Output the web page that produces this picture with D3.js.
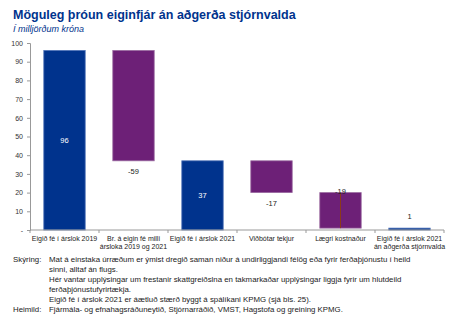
<!DOCTYPE html>
<html>
<head>
<meta charset="utf-8">
<script src="https://cdn.jsdelivr.net/npm/d3@7"></script>
<style>
  html, body { margin: 0; padding: 0; background: #fff; }
  svg { display: block; font-family: "Liberation Sans", Arial, sans-serif; }
</style>
</head>
<body>
<svg id="chart" width="451" height="327"></svg>
<script>
// Waterfall: equity of tourism firms, 2019 -> 2021 without government measures
const categories = [
  ["Eigið fé í árslok 2019"],
  ["Br. á eigin fé milli", "ársloka 2019 og 2021"],
  ["Eigið fé í árslok 2021"],
  ["Viðbótar tekjur"],
  ["Lægri kostnaður"],
  ["Eigið fé í árslok 2021", "án aðgerða stjórnvalda"]
];
const values = [96, -59, 37, -17, -19, 1];
const isTotal = [true, false, true, false, false, true];
const labelPlace = ["middle", "below", "middle", "below", "top", "above"];
const yTicks = [0, 10, 20, 30, 40, 50, 60, 70, 80, 90, 100];

const notes = [
  ["Skýring:", "Mat á einstaka úrræðum er ýmist dregið saman niður á undirliggjandi félög eða fyrir ferðaþjónustu í heild"],
  ["", "sinni, alltaf án flugs."],
  ["", "Hér vantar upplýsingar um frestanir skattgreiðslna en takmarkaðar upplýsingar liggja fyrir um hlutdeild"],
  ["", "ferðaþjónustufyrirtækja."],
  ["", "Eigið fé í árslok 2021 er áætluð stærð byggt á spálíkani KPMG (sjá bls. 25)."],
  ["Heimild:", "Fjármála- og efnahagsráðuneytið, Stjórnarráðið, VMST, Hagstofa og greining KPMG."]
];

const blue = "#00338D", purple = "#6D2077";
const svg = d3.select("#chart");

// Title block
svg.append("text").attr("x", 13).attr("y", 19)
  .attr("fill", blue).attr("font-weight", "bold").attr("font-size", 12.5)
  .text("Möguleg þróun eiginfjár án aðgerða stjórnvalda");
svg.append("text").attr("x", 13).attr("y", 32)
  .attr("fill", blue).attr("font-style", "italic").attr("font-size", 9)
  .text("Í milljörðum króna");

// Running start/end of each step
let run = 0;
const steps = values.map((v, i) => {
  let s, e;
  if (isTotal[i]) { s = 0; e = v; run = v; }
  else { s = run; e = run + v; run = e; }
  return { i, v, lo: Math.min(s, e), hi: Math.max(s, e), total: isTotal[i] };
});

const plot = { left: 30, right: 444, top: 43, bottom: 230 };
const x = d3.scaleBand().domain(d3.range(categories.length))
  .range([plot.left, plot.right]).paddingInner(0.4).paddingOuter(0.2);
const y = d3.scaleLinear().domain([0, 100]).range([plot.bottom, plot.top]);

// Y axis
const yAxis = svg.append("g").attr("transform", `translate(${plot.left},0)`)
  .call(d3.axisLeft(y).tickValues(yTicks).tickSize(3).tickPadding(4)
    .tickFormat(d => d === 0 ? "-" : d));
yAxis.select(".domain").attr("stroke", "#999");
yAxis.selectAll(".tick line").attr("stroke", "#999");
yAxis.selectAll("text").attr("font-size", 7).attr("fill", "#333")
  .attr("font-family", "Liberation Sans, Arial, sans-serif");

// Bars
svg.append("g").selectAll("rect").data(steps).join("rect")
  .attr("x", d => x(d.i))
  .attr("width", x.bandwidth())
  .attr("y", d => y(d.hi))
  .attr("height", d => y(d.lo) - y(d.hi))
  .attr("fill", d => d.total ? blue : purple)
  .attr("stroke", d => d.total ? "#4f73b8" : "#9a6aa0")
  .attr("stroke-width", 0.8);

// Thin line through the cost-reduction bar
steps.filter(d => labelPlace[d.i] === "top").forEach(d => {
  svg.append("line")
    .attr("x1", x(d.i) + x.bandwidth() / 2).attr("x2", x(d.i) + x.bandwidth() / 2)
    .attr("y1", y(d.hi)).attr("y2", y(d.lo))
    .attr("stroke", "#8B3A1A").attr("stroke-width", 1);
});

// Value labels
svg.append("g").selectAll("text").data(steps).join("text")
  .attr("x", d => x(d.i) + x.bandwidth() / 2)
  .attr("y", d => {
    const p = labelPlace[d.i];
    if (p === "middle") return y((d.lo + d.hi) / 2) + 2.5;
    if (p === "below") return y(d.lo) + 13;
    if (p === "top") return y(d.hi) + 1;
    return y(d.hi) - 9;
  })
  .attr("text-anchor", "middle").attr("font-size", 7.5)
  .attr("fill", d => labelPlace[d.i] === "middle" ? "#fff" : "#222")
  .text(d => d.v);

// X axis baseline with ticks between categories
const xg = svg.append("g");
xg.append("line").attr("x1", plot.left).attr("x2", plot.right)
  .attr("y1", plot.bottom).attr("y2", plot.bottom).attr("stroke", "#999");
d3.range(categories.length + 1).forEach(k => {
  const xx = plot.left + k * (plot.right - plot.left) / categories.length;
  xg.append("line").attr("x1", xx).attr("x2", xx)
    .attr("y1", plot.bottom).attr("y2", plot.bottom + 3).attr("stroke", "#999");
});

// Category labels
categories.forEach((lines, i) => {
  const t = svg.append("text")
    .attr("x", x(i) + x.bandwidth() / 2).attr("y", 241)
    .attr("text-anchor", "middle").attr("font-size", 7).attr("fill", "#222");
  lines.forEach((ln, j) => t.append("tspan")
    .attr("x", x(i) + x.bandwidth() / 2).attr("dy", j === 0 ? 0 : 8).text(ln));
});

// Notes and source
const noteY = [262, 272, 282, 292, 302, 312];
notes.forEach((n, i) => {
  if (n[0]) svg.append("text").attr("x", 13).attr("y", noteY[i])
    .attr("font-size", 7.85).attr("fill", "#222").text(n[0]);
  svg.append("text").attr("x", 49).attr("y", noteY[i])
    .attr("font-size", 7.85).attr("fill", "#222").text(n[1]);
});
</script>
</body>
</html>
